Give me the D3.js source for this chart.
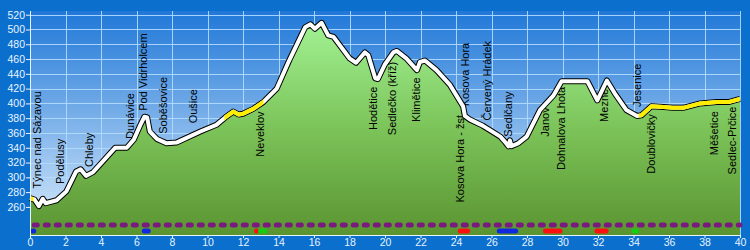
<!DOCTYPE html>
<html>
  <head>
    <meta charset="utf-8">
    <title>Výškový profil</title>
    <style>
      body { margin: 0; background: #0b6fce; }
      svg { display: block; }
    </style>
  </head>
  <body>
    <div id="chart"></div>
    <script src="https://cdn.jsdelivr.net/npm/d3@7"></script>
    <script>
      (function(d3) {
        'use strict';

        // profile: distance (km) and elevation (m)
        var profileKm = [0, 0.25, 0.5, 0.72, 0.88, 1.5, 2.05, 2.6, 2.85, 3.15, 3.55, 4.8, 5.45, 5.85,
          6.2, 6.45, 6.6, 6.75, 7.15, 7.7, 8.25, 9.6, 10.5, 11.0, 11.45, 11.75, 12.0, 12.6, 13.15,
          13.9, 14.6, 15.5, 15.8, 16.05, 16.43, 16.8, 17.1, 18.0, 18.37, 18.87, 19.06, 19.45, 19.6,
          20.0, 20.47, 20.66, 21.2, 21.8, 21.97, 22.25, 22.9, 23.66, 24.4, 24.5, 24.8, 25.5, 26.5,
          26.76, 26.95, 27.04, 27.12, 27.5, 27.98, 28.73, 29.5, 29.95, 31.4, 31.96, 32.5, 32.96,
          33.6, 34.2, 34.45, 35.0, 35.7, 36.2, 36.8, 37.75, 38.7, 39.4, 40];
        var profileElev = [272, 270, 261, 271, 265, 269, 281, 308, 311, 302, 307, 340, 340, 351,
          370, 382, 381, 362, 352, 346, 347, 362, 371, 381, 389, 385, 386, 393, 402,
          420, 458, 503, 507, 501, 509, 492, 490, 461, 455, 469, 465, 434, 433,
          453, 469, 471, 461, 445, 456, 458, 445, 425, 396, 383, 378, 370, 355,
          348, 342, 350, 342, 346, 355, 391, 411, 430, 430, 404, 431, 413,
          391, 383, 384, 396, 395, 394, 394, 400, 402, 402, 406];

        // road parts of the route drawn in yellow (km from, km to)
        var roadFrom = [0, 10.95, 34.3];
        var roadTo = [0.2, 13.15, 40];

        // places: name, km, elevation where the label starts
        var placeNames = ['Týnec nad Sázavou', 'Podělusy', 'Chleby', 'Dunávice', 'Pod Vidrholcem',
          'Soběšovice', 'Oušice', 'Neveklov', 'Hodětice', 'Sedlečko (kříž)', 'Klimětice',
          'Kosova Hora - žst.', 'Kosova Hora', 'Červený Hrádek', 'Sedlčany', 'Janov',
          'Dohnalova Lhota', 'Mezné', 'Jesenice', 'Doublovičky', 'Měšetice', 'Sedlec-Prčice'];
        var placeKm = [0.38, 1.72, 3.34, 5.63, 6.35, 7.51, 9.17, 12.96, 19.34, 20.38, 21.73,
          24.23, 24.51, 25.76, 26.95, 29.04, 29.95, 32.34, 34.18, 35.0, 38.55, 39.53];
        var placeElev = [285, 291, 314, 352, 390, 359, 373, 328, 364, 357, 375,
          266, 396, 377, 355, 355, 310, 375, 395, 305, 330, 304];

        // marked trail (dashed) and coloured marks below it
        var trailFrom = 0.1, trailTo = 40;
        var markFrom = [0, 6.3, 12.62, 12.85, 24.1, 26.3, 28.9, 31.8, 33.9];
        var markTo = [0.35, 6.8, 12.8, 13.35, 24.8, 27.5, 30.0, 32.6, 34.3];
        var markColor = ['#1028e0', '#1028e0', '#ff1010', '#10d010', '#ff1010', '#1028e0',
          '#ff1010', '#ff1010', '#10d010'];

        var kmTicks = d3.range(0, 41, 2);
        var elevTicks = d3.range(260, 521, 20);

        var width = 750;
        var height = 250;
        var left = 30, right = 740, top = 11, bottom = 235;

        var x = d3.scaleLinear().domain([0, 40]).range([left, right]);
        var y = d3.scaleLinear().domain([222, 525]).range([bottom, top]);

        var svg = d3.select('#chart')
          .append('svg')
          .attr('width', width)
          .attr('height', height)
          .style('font-family', '"Liberation Sans", Arial, sans-serif');

        var defs = svg.append('defs');
        var sky = defs.append('linearGradient').attr('id', 'sky')
          .attr('x1', 0).attr('y1', 0).attr('x2', 0).attr('y2', 1);
        sky.append('stop').attr('offset', 0).attr('stop-color', '#2078d8');
        sky.append('stop').attr('offset', 1).attr('stop-color', '#dcedfc');
        var grass = defs.append('linearGradient').attr('id', 'grass')
          .attr('gradientUnits', 'userSpaceOnUse')
          .attr('x1', 0).attr('y1', 20).attr('x2', 0).attr('y2', bottom);
        grass.append('stop').attr('offset', 0).attr('stop-color', '#a2f294');
        grass.append('stop').attr('offset', 0.5).attr('stop-color', '#7cc45a');
        grass.append('stop').attr('offset', 1).attr('stop-color', '#5a9430');

        var clip = defs.append('clipPath').attr('id', 'roads');
        roadFrom.forEach(function(d, i) {
          clip.append('rect')
            .attr('x', x(d)).attr('y', 0)
            .attr('width', x(roadTo[i]) - x(d)).attr('height', height);
        });

        svg.append('rect')
          .attr('width', width).attr('height', height)
          .attr('fill', '#0b6fce');
        svg.append('rect')
          .attr('x', left).attr('y', top)
          .attr('width', right - left).attr('height', bottom - top)
          .attr('fill', 'url(#sky)');

        // grid
        var grid = svg.append('g')
          .attr('stroke', '#b4dcff')
          .attr('stroke-opacity', 0.9)
          .attr('shape-rendering', 'crispEdges');
        grid.selectAll('line.h')
          .data(elevTicks)
          .enter()
          .append('line')
          .attr('class', 'h')
          .attr('x1', left).attr('x2', right)
          .attr('y1', function(d) { return Math.round(y(d)) + 0.5; })
          .attr('y2', function(d) { return Math.round(y(d)) + 0.5; });
        grid.selectAll('line.v')
          .data(kmTicks.slice(1))
          .enter()
          .append('line')
          .attr('class', 'v')
          .attr('y1', top).attr('y2', bottom)
          .attr('x1', function(d) { return Math.round(x(d)) + 0.5; })
          .attr('x2', function(d) { return Math.round(x(d)) + 0.5; });

        var pts = profileKm.map(function(d, i) { return [d, profileElev[i]]; });

        var area = d3.area()
          .x(function(d) { return x(d[0]); })
          .y0(bottom)
          .y1(function(d) { return y(d[1]); });
        var line = d3.line()
          .x(function(d) { return x(d[0]); })
          .y(function(d) { return y(d[1]); });

        svg.append('path')
          .datum(pts)
          .attr('d', area)
          .attr('fill', 'url(#grass)');

        // labels of places
        svg.append('g')
          .selectAll('text')
          .data(placeNames)
          .enter()
          .append('text')
          .attr('transform', function(d, i) {
            return 'translate(' + x(placeKm[i]) + ',' + y(placeElev[i]) + ') rotate(-90)';
          })
          .attr('dy', '0.35em')
          .attr('font-size', 11)
          .attr('fill', '#000')
          .text(function(d) { return d; });

        // profile line
        svg.append('path')
          .datum(pts)
          .attr('d', line)
          .attr('fill', 'none')
          .attr('stroke', '#000')
          .attr('stroke-width', 6)
          .attr('stroke-linejoin', 'round');
        svg.append('path')
          .datum(pts)
          .attr('d', line)
          .attr('fill', 'none')
          .attr('stroke', '#fff')
          .attr('stroke-width', 4)
          .attr('stroke-linejoin', 'round');
        svg.append('path')
          .datum(pts)
          .attr('d', line)
          .attr('fill', 'none')
          .attr('stroke', '#ffee00')
          .attr('stroke-width', 4)
          .attr('stroke-linejoin', 'round')
          .attr('clip-path', 'url(#roads)');

        // trail markers
        var cap = 2.5;
        svg.append('line')
          .attr('x1', x(trailFrom) + cap).attr('x2', x(trailTo))
          .attr('y1', 225).attr('y2', 225)
          .attr('stroke', '#7a1a80')
          .attr('stroke-width', 5)
          .attr('stroke-linecap', 'round')
          .attr('stroke-dasharray', '3 8');
        svg.append('g')
          .selectAll('line')
          .data(markFrom)
          .enter()
          .append('line')
          .attr('x1', function(d) { return x(d) + cap; })
          .attr('x2', function(d, i) { return Math.max(x(d) + cap, x(markTo[i]) - cap); })
          .attr('y1', 231).attr('y2', 231)
          .attr('stroke', function(d, i) { return markColor[i]; })
          .attr('stroke-width', 5)
          .attr('stroke-linecap', 'round');

        // axes
        var yAxis = svg.append('g')
          .attr('transform', 'translate(' + left + ',0)')
          .call(d3.axisLeft(y).tickValues(elevTicks).tickSize(4).tickPadding(1));
        var xAxis = svg.append('g')
          .attr('transform', 'translate(0,' + bottom + ')')
          .call(d3.axisBottom(x).tickValues(kmTicks).tickSize(3).tickPadding(1));
        [yAxis, xAxis].forEach(function(g) {
          g.select('.domain').attr('stroke', '#e8f4ff');
          g.selectAll('.tick line').attr('stroke', '#e8f4ff');
          g.selectAll('.tick text')
            .attr('fill', '#e8f4ff')
            .attr('font-size', 10.5)
            .attr('font-family', '"Liberation Sans", Arial, sans-serif');
        });
        yAxis.select('.domain').attr('d', 'M0.5,' + top + 'V' + bottom);
        xAxis.select('.domain').attr('d', 'M' + left + ',0.5H' + right);
      })(window.d3);
    </script>
  </body>
</html>
